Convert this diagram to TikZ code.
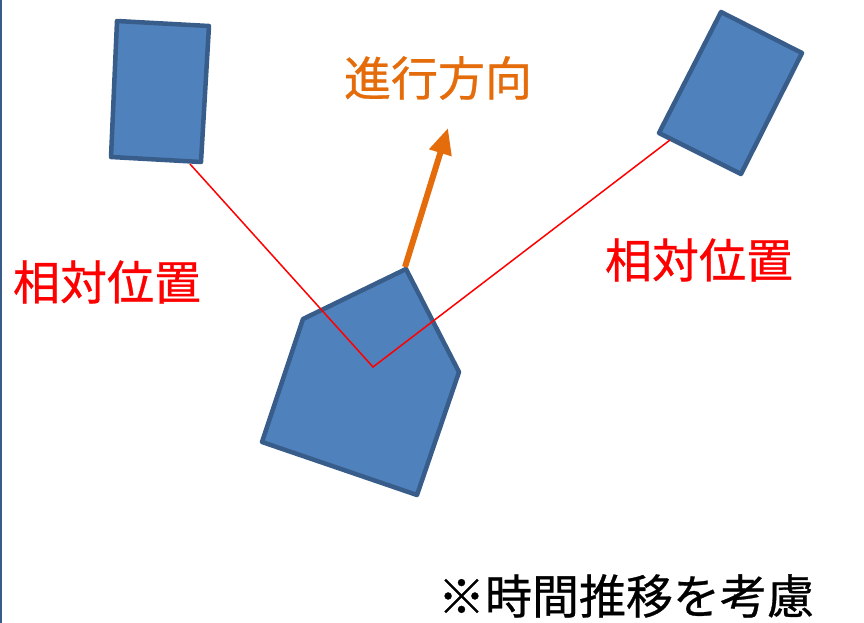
\documentclass[tikz,border=0pt]{standalone}
\usepackage{fontspec}
\newfontfamily\cjk[FakeBold=0.6]{Noto Sans CJK JP}
\usetikzlibrary{arrows.meta}
\definecolor{shapefill}{HTML}{4F81BD}
\definecolor{shapeline}{HTML}{385D8A}
\definecolor{dirorange}{HTML}{E46C0A}
\tikzset{
  vehicle/.style={fill=shapefill, draw=shapeline, line width=4.5pt, line join=round},
  relline/.style={draw=red, line width=1.5pt},
  dirarrow/.style={draw=dirorange, line width=6pt, -{Triangle[length=26pt,width=22pt]}},
  lbl/.style={inner sep=0pt, font=\cjk\fontsize{47pt}{50pt}\selectfont}
}
\begin{document}
\begin{tikzpicture}[x=1pt,y=-1pt]
\useasboundingbox (0,0) rectangle (864,623);
\draw[shapeline, line width=2pt] (1,0) -- (1,623);
% left rectangle
\draw[vehicle] (117,21) -- (209,26) -- (201,162) -- (111,157) -- cycle;
% right rectangle
\draw[vehicle] (721,12) -- (802,53) -- (741,174) -- (659,133) -- cycle;
% pentagon
\draw[vehicle] (406,269) -- (459,372) -- (417,495) -- (262,442) -- (303,319) -- cycle;
\coordinate (ctr) at (373,367);
\coordinate (lrect) at (190,164);
\coordinate (rrect) at (670,140);
\coordinate (nose) at (405,267);
\coordinate (tip) at (448,128);
\draw[relline] (lrect) -- (ctr) -- (rrect);
\draw[dirarrow] (nose) -- (tip);
\node[lbl, text=dirorange] (dir) at (438,78) {進行方向};
\node[lbl, text=red] (rl) at (107,282) {相対位置};
\node[lbl, text=red] (rr) at (699,260) {相対位置};
\node[inner sep=0pt, font=\cjk\fontsize{47pt}{50pt}\selectfont] (note) at (626,596) {※時間推移を考慮};
\end{tikzpicture}
\end{document}
